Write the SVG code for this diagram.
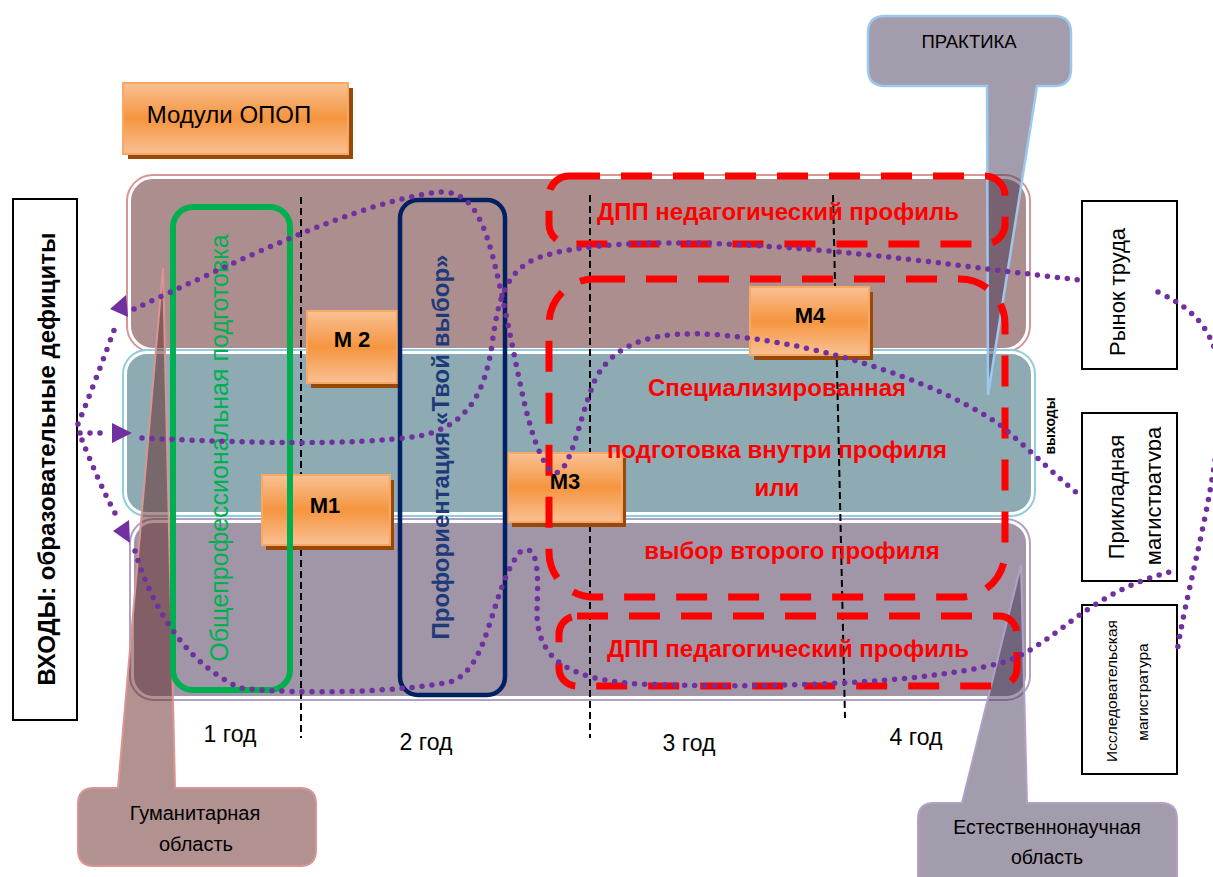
<svg xmlns="http://www.w3.org/2000/svg" width="1213" height="877" viewBox="0 0 1213 877">
<defs>
<style>
.t{font-family:"Liberation Sans",Arial,sans-serif}
.b{font-weight:bold}
.red{fill:#ff0000;font-weight:bold;font-size:24px}
.dot{fill:none;stroke:#7030a0;stroke-width:5.5;stroke-linecap:round;stroke-dasharray:0 10}
.ah{fill:#7030a0}
.rd{fill:none;stroke:#ff0000;stroke-width:7;stroke-dasharray:31 21}
.bd{stroke:#000;stroke-width:2;stroke-dasharray:7 4;fill:none}
.box{fill:#fff;stroke:#000;stroke-width:2}
.mod{fill:url(#og);stroke:#f8a866;stroke-width:2}
.sh{fill:#984807}
</style>
<linearGradient id="og" x1="0" y1="0" x2="0" y2="1">
<stop offset="0" stop-color="#f9c194"/>
<stop offset="0.5" stop-color="#f5953f"/>
<stop offset="1" stop-color="#f9c194"/>
</linearGradient>
<clipPath id="cpPM"><rect x="1083" y="414" width="78" height="165"/></clipPath>
</defs>

<g id="bands">
<rect x="129" y="177" width="899" height="173" rx="24" fill="#ad8e8e" stroke="#fff" stroke-width="4"/>
<rect x="127" y="175" width="903" height="177" rx="26" fill="none" stroke="#d99594" stroke-width="2"/>
<rect x="125" y="352" width="908" height="162" rx="22" fill="#8eabb3" stroke="#fff" stroke-width="4"/>
<rect x="123" y="350" width="912" height="166" rx="24" fill="none" stroke="#92cddc" stroke-width="2"/>
<rect x="132" y="521" width="896" height="177" rx="22" fill="#a096a8" stroke="#fff" stroke-width="4"/>
<rect x="130" y="519" width="900" height="181" rx="24" fill="none" stroke="#b2a1c7" stroke-width="2"/>
</g>

<g id="callout-praktika">
<path d="M885,16 H1054 Q1071,16 1071,33 V69 Q1071,86 1054,86 H1037 L988,395 L987,86 H885 Q868,86 868,69 V33 Q868,16 885,16 Z" fill="#3f3151" fill-opacity="0.48" stroke="#9cc8f0" stroke-width="2.5"/>
<text class="t" x="969" y="48" font-size="18.5" text-anchor="middle" fill="#000">ПРАКТИКА</text>
</g>
<g id="callout-human">
<path d="M94,788 H118 L163,268 L175,788 H300 Q316,788 316,804 V850 Q316,866 300,866 H94 Q78,866 78,850 V804 Q78,788 94,788 Z" fill="#632523" fill-opacity="0.5" stroke="#d99594" stroke-width="2"/>
<text class="t" x="195" y="820" font-size="20" text-anchor="middle" fill="#000">Гуманитарная</text>
<text class="t" x="196" y="851" font-size="20" text-anchor="middle" fill="#000">область</text>
</g>
<g id="callout-natural">
<path d="M934,803 H962 L1021,565 L1027,803 H1161 Q1177,803 1177,819 V895 H918 V819 Q918,803 934,803 Z" fill="#3f3151" fill-opacity="0.48" stroke="#b2a1c7" stroke-width="2"/>
<text class="t" x="1047" y="834" font-size="19.5" text-anchor="middle" fill="#000">Естественнонаучная</text>
<text class="t" x="1047" y="864" font-size="19.5" text-anchor="middle" fill="#000">область</text>
</g>

<g id="year-lines">
<line class="bd" x1="301" y1="197" x2="301" y2="738"/>
<line class="bd" x1="590" y1="195" x2="590" y2="738"/>
<line class="bd" x1="833" y1="195" x2="845" y2="718"/>
<text class="t" x="230" y="742" font-size="23" text-anchor="middle">1 год</text>
<text class="t" x="426" y="750" font-size="23" text-anchor="middle">2 год</text>
<text class="t" x="689" y="751" font-size="23" text-anchor="middle">3 год</text>
<text class="t" x="916" y="745" font-size="23" text-anchor="middle">4 год</text>
</g>

<g id="modules-opop">
<rect class="sh" x="128" y="88" width="225" height="71"/>
<rect class="mod" x="123" y="83" width="225" height="71"/>
<text class="t" x="229" y="123" font-size="24" text-anchor="middle">Модули ОПОП</text>
</g>
<g id="m2">
<rect class="sh" x="311" y="316" width="90" height="72"/>
<rect class="mod" x="307" y="311" width="90" height="72"/>
<text class="t b" x="352" y="347" font-size="22" text-anchor="middle">M 2</text>
</g>
<g id="m1">
<rect class="sh" x="266" y="480" width="128" height="70"/>
<rect class="mod" x="262" y="475" width="128" height="70"/>
<text class="t b" x="325" y="513" font-size="22" text-anchor="middle">M1</text>
</g>
<g id="m3">
<rect class="sh" x="512" y="458" width="114" height="69"/>
<rect class="mod" x="508" y="453" width="114" height="69"/>
<text class="t b" x="565" y="489" font-size="22" text-anchor="middle">M3</text>
</g>
<g id="m4">
<rect class="sh" x="754" y="292" width="119" height="68"/>
<rect class="mod" x="750" y="287" width="119" height="68"/>
<text class="t b" x="810" y="323" font-size="22" text-anchor="middle">M4</text>
</g>

<g id="general-training">
<rect x="173" y="207" width="117" height="483" rx="20" fill="none" stroke="#00b050" stroke-width="6"/>
<text class="t" transform="translate(228,448) rotate(-90)" font-size="25" text-anchor="middle" fill="#00b050">Общепрофессиональная подготовка</text>
</g>
<g id="career-guidance">
<rect x="400" y="200" width="105" height="495" rx="18" fill="none" stroke="#002060" stroke-width="4.5"/>
<text class="t b" transform="translate(449,447) rotate(-90)" font-size="24" text-anchor="middle" fill="#1f3a78">Профориентация «Твой выбор»</text>
</g>

<g id="dpp-nonped">
<rect class="rd" x="549" y="176" width="456" height="68" rx="20"/>
<text class="t red" x="778" y="220" text-anchor="middle">ДПП недагогический профиль</text>
</g>
<g id="specialized">
<rect class="rd" x="549" y="279" width="456" height="318" rx="45"/>
<text class="t red" x="777" y="396" text-anchor="middle">Специализированная</text>
<text class="t red" x="777" y="458" text-anchor="middle">подготовка внутри профиля</text>
<text class="t red" x="777" y="496" text-anchor="middle">или</text>
<text class="t red" x="792" y="559" text-anchor="middle">выбор второго профиля</text>
</g>
<g id="dpp-ped">
<rect class="rd" x="559" y="616" width="458" height="70" rx="18"/>
<text class="t red" x="788" y="657" text-anchor="middle">ДПП педагогический профиль</text>
</g>

<g id="inputs">
<rect class="box" x="13" y="199" width="64" height="521"/>
<text class="t b" transform="translate(55,459) rotate(-90)" font-size="24" text-anchor="middle">ВХОДЫ: образовательные дефициты</text>
</g>
<g id="outputs-label">
<text class="t b" transform="translate(1055,426) rotate(-90)" font-size="14" text-anchor="middle">выходы</text>
</g>
<g id="labor-market">
<rect class="box" x="1082" y="201" width="95" height="168"/>
<text class="t" transform="translate(1125,292) rotate(-90)" font-size="22" text-anchor="middle">Рынок труда</text>
</g>
<g id="applied-master">
<rect class="box" x="1082" y="413" width="95" height="168"/>
<g clip-path="url(#cpPM)">
<text class="t" transform="translate(1124,497) rotate(-90)" font-size="22" text-anchor="middle">Прикладная</text>
<text class="t" transform="translate(1161,496) rotate(-90)" font-size="22" text-anchor="middle">магистратура</text>
</g>
</g>
<g id="research-master">
<rect class="box" x="1082" y="605" width="95" height="169"/>
<text class="t" transform="translate(1117,691) rotate(-90)" font-size="15.5" text-anchor="middle">Исследовательская</text>
<text class="t" transform="translate(1148,692) rotate(-90)" font-size="15.5" text-anchor="middle">магистратура</text>
</g>

<g id="connectors">
<path class="dot" d="M78,424 C90,395 105,355 117,322"/>
<polygon class="ah" points="110,309 126,295 128,317"/>
<path class="dot" d="M80,433 L110,433"/>
<polygon class="ah" points="132,433 112,423 112,443"/>
<path class="dot" d="M82,440 C92,465 105,495 116,515"/>
<polygon class="ah" points="130,543 113,531 129,520"/>
<path class="dot" d="M134,309 C230,265 360,200 440,192 C480,190 490,240 505,310 C520,380 530,450 552,472 C570,480 578,420 595,380 C615,340 660,330 720,335 C840,345 950,390 1000,425 C1030,450 1060,480 1082,497"/>
<path class="dot" d="M142,438 C250,443 350,446 420,436 C470,425 485,390 492,345 C498,300 505,270 540,257 C570,247 620,242 700,243 C850,248 970,268 1080,280"/>
<path class="dot" d="M135,551 C150,600 180,660 240,688 C300,695 400,692 450,682 C490,670 490,590 520,552 C540,540 538,580 537,610 C536,660 570,680 640,684 C800,690 950,680 1010,660 C1060,640 1090,590 1178,570"/>
<path class="dot" d="M1158,292 C1185,305 1205,320 1215,350"/>
<path class="dot" d="M1215,460 C1205,530 1185,600 1177,652"/>
</g>
</svg>
